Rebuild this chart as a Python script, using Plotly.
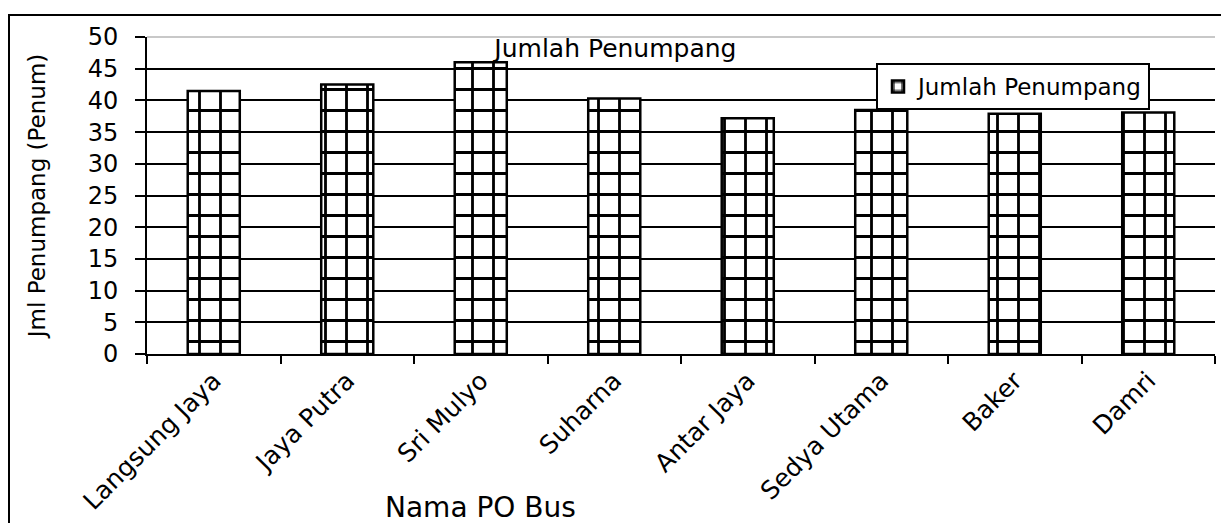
import plotly.graph_objects as go

categories = ["Langsung Jaya", "Jaya Putra", "Sri Mulyo", "Suharna", "Antar Jaya",
              "Sedya Utama", "Baker", "Damri"]
penumpang = [41.5, 42.5, 46.0, 40.3, 37.2, 38.5, 37.9, 38.1]
y_ticks = [0, 5, 10, 15, 20, 25, 30, 35, 40, 45, 50]

FONT = "DejaVu Sans, Liberation Sans, Arial, sans-serif"

fig = go.Figure()
fig.add_trace(go.Bar(
    x=categories, y=penumpang, name="Jumlah Penumpang",
    marker=dict(color="white",
                line=dict(color="black", width=2.5),
                pattern=dict(shape="+", fgcolor="black", bgcolor="white",
                             fgopacity=1, size=21, solidity=0.25,
                             fillmode="replace")),
))

W, H = 1221, 523
L, R, T, B = 147, 6, 37, 169

fig.update_layout(
    width=W, height=H,
    margin=dict(l=L, r=R, t=T, b=B, pad=0),
    paper_bgcolor="white", plot_bgcolor="white",
    font=dict(family=FONT, color="black", size=24),
    bargap=0.61,
    showlegend=True,
    title=dict(text="Jumlah Penumpang", font=dict(size=25, family=FONT),
               x=0.504, xref="container", xanchor="center",
               y=1 - 48 / H, yref="container", yanchor="middle"),
    legend=dict(x=(876 - L) / (W - L - R), y=(H - B - 63) / (H - T - B),
                xanchor="left", yanchor="top",
                bgcolor="white", bordercolor="black", borderwidth=2,
                font=dict(size=23, family=FONT),
                itemwidth=30, tracegroupgap=0),
    xaxis=dict(type="category", showgrid=False, showline=True, linecolor="black",
               linewidth=2, ticks="outside", ticklen=8, tickwidth=2, tickcolor="black",
               tickson="boundaries", tickangle=-45, tickfont=dict(size=25),
               zeroline=False),
    yaxis=dict(range=[0, 50], tickvals=y_ticks, showgrid=True, gridcolor="black",
               gridwidth=1.5, showline=True, linecolor="black", linewidth=2,
               ticks="outside", ticklen=10, tickwidth=2, tickcolor="black",
               tickfont=dict(size=24), ticklabelstandoff=12, zeroline=False,
               title=dict(text="Jml Penumpang (Penum)", font=dict(size=23),
                          standoff=36)),
    annotations=[dict(text="Nama PO Bus", xref="paper", yref="paper",
                      x=(480 - L) / (W - L - R), y=(H - B - 507) / (H - T - B),
                      xanchor="center", yanchor="middle", showarrow=False,
                      font=dict(size=28, family=FONT))],
    shapes=[
        dict(type="line", xref="paper", yref="paper", x0=0, x1=1, y0=1, y1=1,
             line=dict(color="#c8c8c8", width=2), layer="above"),
        dict(type="rect", xref="paper", yref="paper",
             x0=(9 - L) / (W - L - R), x1=1.05,
             y0=-0.7, y1=(H - B - 15) / (H - T - B),
             line=dict(color="black", width=2), layer="above"),
    ],
)

fig.write_html("out.html")
